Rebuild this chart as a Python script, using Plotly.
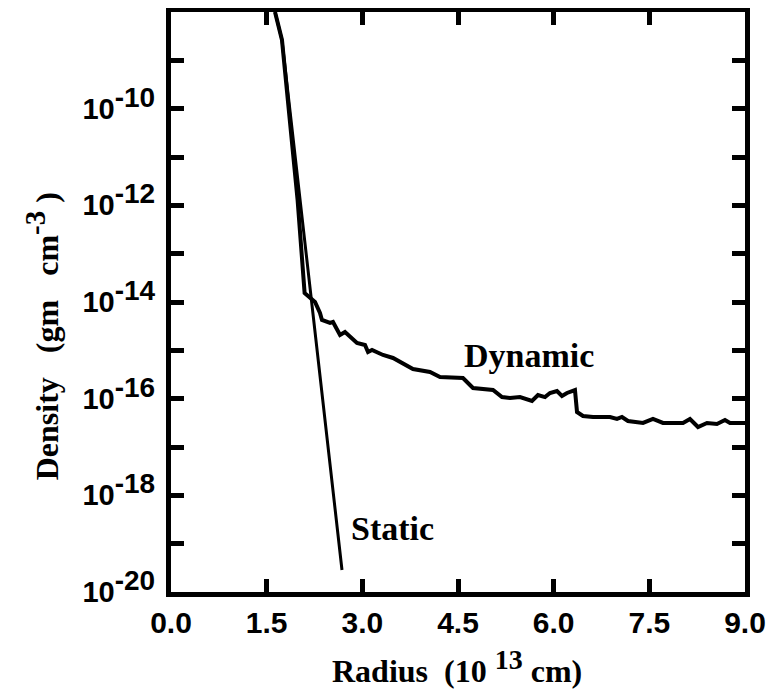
import plotly.graph_objects as go

# Static model curve
static_radius = [1.631, 1.740, 2.681]
static_density = [1.0e-8, 2.64e-9, 2.85e-20]

# Dynamic model curve
dynamic_radius = [1.631, 1.740, 1.985, 2.095, 2.258, 2.336, 2.367, 2.493, 2.540, 2.650,
                  2.728, 2.806, 2.916, 3.042, 3.089, 3.152, 3.324, 3.481, 3.638, 3.794,
                  4.061, 4.218, 4.578, 4.735, 5.049, 5.190, 5.315, 5.472, 5.660, 5.754,
                  5.864, 5.942, 6.052, 6.130, 6.209, 6.334, 6.366, 6.460, 6.617, 6.883,
                  6.993, 7.071, 7.165, 7.401, 7.557, 7.714, 8.028, 8.137, 8.263, 8.404,
                  8.560, 8.686, 8.765, 8.953, 9.0]
dynamic_density = [1.0e-8, 2.64e-9, 1.29e-12, 1.54e-14, 1.0e-14, 5.93e-15, 4.25e-15, 3.68e-15, 3.86e-15, 2.08e-15,
                   2.40e-15, 1.89e-15, 1.42e-15, 1.29e-15, 9.25e-16, 1.02e-15, 8.02e-16, 6.95e-16, 5.47e-16, 4.11e-16,
                   3.56e-16, 2.81e-16, 2.68e-16, 1.66e-16, 1.51e-16, 1.08e-16, 1.03e-16, 1.08e-16, 8.95e-17, 1.19e-16,
                   1.08e-16, 1.31e-16, 1.44e-16, 1.14e-16, 1.31e-16, 1.51e-16, 5.30e-17, 4.39e-17, 4.18e-17, 4.18e-17,
                   3.80e-17, 4.18e-17, 3.45e-17, 3.14e-17, 3.80e-17, 3.14e-17, 3.14e-17, 3.80e-17, 2.59e-17, 3.14e-17,
                   2.99e-17, 3.62e-17, 3.14e-17, 3.14e-17, 3.14e-17]

x_ticks = [0.0, 1.5, 3.0, 4.5, 6.0, 7.5, 9.0]
x_tick_labels = ["0.0", "1.5", "3.0", "4.5", "6.0", "7.5", "9.0"]
y_major_exponents = [-20, -18, -16, -14, -12, -10]
y_minor_exponents = [-19, -17, -15, -13, -11, -9]
y_tick_labels = [f"10<sup><span style='font-size:28px'>{e}</span></sup>" for e in y_major_exponents]

SERIF = "Liberation Serif"
SANS = "Liberation Sans"

fig = go.Figure()
fig.add_trace(go.Scatter(x=static_radius, y=static_density, mode="lines",
                         line=dict(color="black", width=3), showlegend=False))
fig.add_trace(go.Scatter(x=dynamic_radius, y=dynamic_density, mode="lines",
                         line=dict(color="black", width=4), showlegend=False))

fig.add_annotation(x=5.613, y=-15.10, text="Dynamic", showarrow=False,
                   font=dict(family=SERIF, size=34, color="black", weight="bold"))
fig.add_annotation(x=3.48, y=-18.68, text="Static", showarrow=False,
                   font=dict(family=SERIF, size=34, color="black", weight="bold"))

# axis titles
fig.add_annotation(xref="paper", yref="paper", x=0.498, y=-0.129, xanchor="center", yanchor="middle",
                   text="Radius&nbsp;&nbsp;(10 <sup><span style='font-size:28px'>13</span></sup> cm)",
                   showarrow=False,
                   font=dict(family=SERIF, size=32, color="black", weight="bold"))
fig.add_annotation(xref="paper", yref="paper", x=-0.2247, y=0.441, xanchor="center", yanchor="middle",
                   textangle=-90,
                   text="Density&nbsp;&nbsp;&nbsp;(gm&nbsp;&nbsp;&nbsp;cm<sup><span style='font-size:29px'>-3</span></sup>&nbsp;)",
                   showarrow=False,
                   font=dict(family=SERIF, size=32, color="black", weight="bold"))

axis_common = dict(showline=True, linecolor="black", linewidth=5, mirror="ticks",
                   ticks="inside", ticklen=13, tickwidth=4.5, tickcolor="black",
                   showgrid=False, zeroline=False)

fig.update_xaxes(range=[0, 9], tickvals=x_ticks, ticktext=x_tick_labels,
                 tickfont=dict(family=SANS, size=30, color="black", weight="bold"),
                 **axis_common)
fig.update_yaxes(type="log", range=[-20, -8], tickvals=[10.0 ** e for e in y_major_exponents],
                 ticktext=y_tick_labels, ticklabelstandoff=5,
                 tickfont=dict(family=SANS, size=29, color="black", weight="bold"),
                 minor=dict(tickvals=[10.0 ** e for e in y_minor_exponents], ticks="inside",
                            ticklen=13, tickwidth=4.5, tickcolor="black", showgrid=False),
                 **axis_common)

# the page adds an 8px body margin, so the figure is 8px smaller to keep the frame in place
fig.update_layout(width=768, height=686,
                  margin=dict(l=163, r=31, t=4, b=102, autoexpand=False),
                  plot_bgcolor="white", paper_bgcolor="white")

fig.write_html("out.html")
